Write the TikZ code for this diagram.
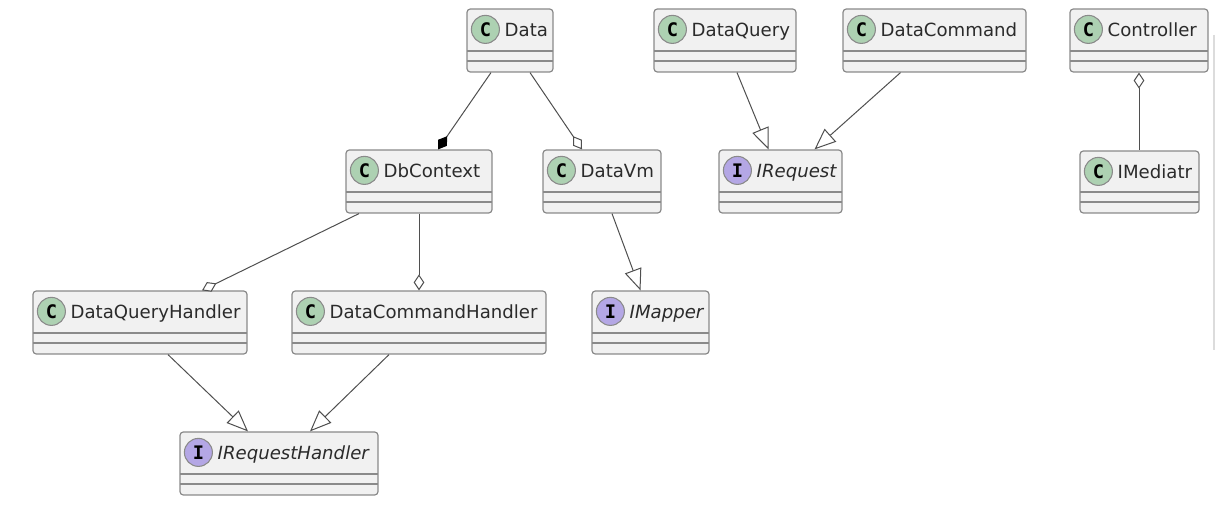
\documentclass[tikz,border=0pt]{standalone}
\usepackage{fontspec}
\setmainfont{DejaVu Sans}
\setmonofont{DejaVu Sans Mono}
\usetikzlibrary{arrows.meta,fit,calc}
\definecolor{boxfill}{HTML}{F1F1F1}
\definecolor{boxline}{HTML}{8A8A8A}
\definecolor{linkcol}{HTML}{4F4F4F}
\definecolor{classbadge}{HTML}{ADD1B2}
\definecolor{ifacebadge}{HTML}{B4A7E5}
\definecolor{badgeline}{HTML}{8A8A8A}
\definecolor{txt}{HTML}{2B2B2B}
\definecolor{rule}{HTML}{DCDCDC}

% one UML class box: name, left, top, right, bottom, badge letter, badge colour, title
\newcommand\umlclass[8]{%
  \node[umlbox, fit={(#2,#3) (#4,#5)}] (#1) {};
  \node[badge, fill=#7] (#1-badge) at ($(#1.north west)+(19,21)$) {#6};
  \node[title, anchor=base west] (#1-title) at ($(#1.north west)+(38,28)$) {#8};
}

\begin{document}
\begin{tikzpicture}[x=0.75pt,y=-0.75pt,
  umlbox/.style={draw=boxline, fill=boxfill, line width=0.9pt, rounded corners=2.5pt, inner sep=0pt,
    path picture={
      \draw[boxline, line width=0.9pt]
        ([yshift=15.75pt]path picture bounding box.south west) -- ([yshift=15.75pt]path picture bounding box.south east);
      \draw[boxline, line width=0.9pt]
        ([yshift=8.25pt]path picture bounding box.south west) -- ([yshift=8.25pt]path picture bounding box.south east);
    }},
  badge/.style={circle, draw=badgeline, line width=0.8pt, minimum size=21pt, inner sep=0pt,
    text=black, font=\ttfamily\bfseries\fontsize{14}{14}\selectfont},
  title/.style={inner sep=0pt, text=txt, font=\fontsize{13.6}{16}\selectfont},
  link/.style={draw=linkcol, line width=0.75pt},
  realize/.style={link, -{Triangle[open, length=16pt, width=13pt, fill=white]}},
  aggr/.style={link, -{Diamond[open, length=12pt, width=8pt, fill=white]}},
  aggrstart/.style={link, {Diamond[open, length=12pt, width=8pt, fill=white]}-},
  comp/.style={link, -{Diamond[length=12pt, width=8pt, color=black]}},
]
\useasboundingbox (0,0) rectangle (1224,523);

% side rule
\draw[rule, line width=1.2pt] (1214,35) -- (1214,350);

% classes and interfaces
\umlclass{data}{467}{9}{553}{72}{C}{classbadge}{Data}
\umlclass{dataquery}{654}{9}{796}{72}{C}{classbadge}{DataQuery}
\umlclass{datacommand}{843}{9}{1026}{72}{C}{classbadge}{DataCommand}
\umlclass{controller}{1070}{9}{1208}{72}{C}{classbadge}{Controller}
\umlclass{dbcontext}{346}{150}{492}{213}{C}{classbadge}{DbContext}
\umlclass{datavm}{543}{150}{661}{213}{C}{classbadge}{DataVm}
\umlclass{irequest}{719}{150}{842}{213}{I}{ifacebadge}{\itshape IRequest}
\umlclass{imediatr}{1080}{151}{1199}{213}{C}{classbadge}{IMediatr}
\umlclass{dqhandler}{33}{291}{247}{354}{C}{classbadge}{DataQueryHandler}
\umlclass{dchandler}{292}{291}{546}{354}{C}{classbadge}{DataCommandHandler}
\umlclass{imapper}{592}{291}{709}{354}{I}{ifacebadge}{\itshape IMapper}
\umlclass{irhandler}{180}{432}{378}{495}{I}{ifacebadge}{\itshape IRequestHandler}

% relations
\draw[comp] ($(data.south)+(-19,0)$) -- ($(dbcontext.north)+(19,0)$);
\draw[aggr] ($(data.south)+(20,0)$) -- ($(datavm.north)+(-20,0)$);
\draw[realize] ($(dataquery.south)+(12,0)$) -- ($(irequest.north)+(-12,0)$);
\draw[realize] ($(datacommand.south)+(-34,0)$) -- ($(irequest.north)+(34,0)$);
\draw[aggrstart] (controller.south) -- (imediatr.north -| controller.south);
\draw[aggr] ($(dbcontext.south)+(-60,0)$) -- ($(dqhandler.north)+(62,0)$);
\draw[aggr] (dbcontext.south) -- (dchandler.north);
\draw[realize] ($(datavm.south)+(10,0)$) -- ($(imapper.north)+(-10,0)$);
\draw[realize] ($(dqhandler.south)+(28,0)$) -- ($(irhandler.north)+(-31,0)$);
\draw[realize] ($(dchandler.south)+(-30,0)$) -- ($(irhandler.north)+(31,0)$);
\end{tikzpicture}
\end{document}
